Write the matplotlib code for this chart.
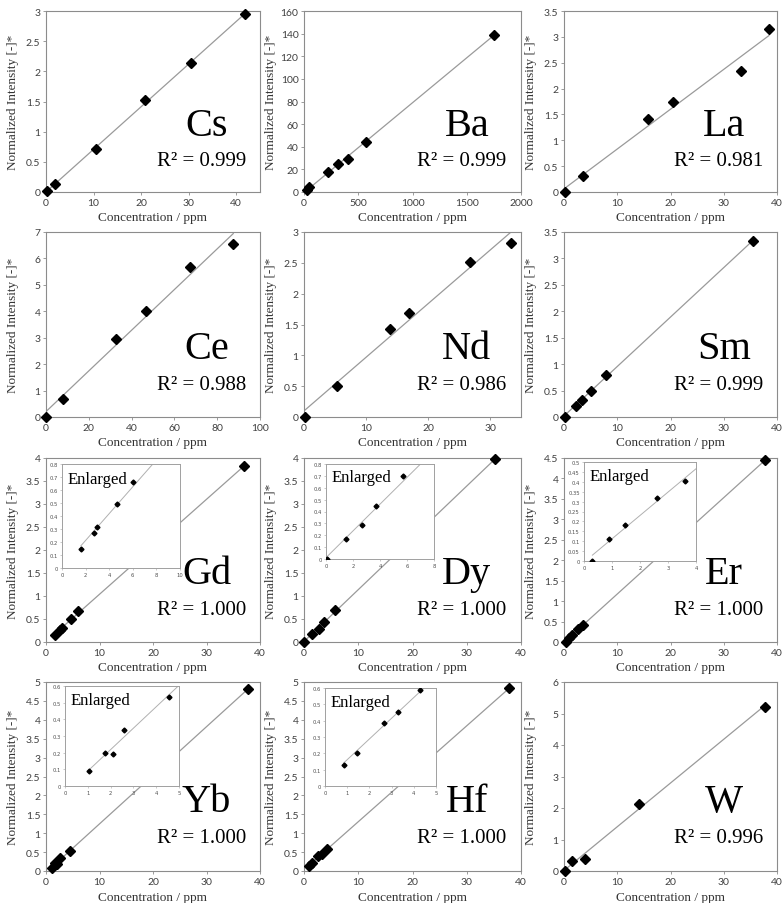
import numpy as np
import matplotlib
matplotlib.use('Agg')
import matplotlib.pyplot as plt
from matplotlib.ticker import MultipleLocator, FuncFormatter

# ---------------- data ----------------
elements = ['Cs', 'Ba', 'La', 'Ce', 'Nd', 'Sm', 'Gd', 'Dy', 'Er', 'Yb', 'Hf', 'W']
r2_labels = ['0.999', '0.999', '0.981', '0.988', '0.986', '0.999',
             '1.000', '1.000', '1.000', '1.000', '1.000', '0.996']

cs_x = [0.3, 1.8, 10.5, 20.8, 30.5, 41.8]
cs_y = [0.02, 0.13, 0.71, 1.53, 2.13, 2.95]
ba_x = [30, 50, 220, 310, 410, 570, 1750]
ba_y = [2, 4, 18, 25, 29.5, 44, 139]
la_x = [0.1, 3.5, 15.7, 20.5, 33.3, 38.5]
la_y = [0.0, 0.30, 1.41, 1.75, 2.34, 3.16]
ce_x = [0.2, 7.8, 32.5, 46.8, 67.5, 87.5]
ce_y = [0.0, 0.70, 2.95, 4.02, 5.68, 6.53]
nd_x = [0.1, 5.3, 13.8, 17.0, 26.7, 33.4]
nd_y = [0.0, 0.51, 1.43, 1.68, 2.52, 2.82]
sm_x = [0.1, 2.3, 3.3, 5.0, 7.8, 35.5]
sm_y = [0.0, 0.21, 0.33, 0.50, 0.80, 3.33]
gd_x = [1.6, 2.7, 3.0, 4.7, 6.0, 37.0]
gd_y = [0.15, 0.27, 0.315, 0.49, 0.665, 3.82]
dy_x = [0.05, 1.5, 2.7, 3.7, 5.7, 35.2]
dy_y = [0.0, 0.17, 0.29, 0.445, 0.695, 3.97]
er_x = [0.3, 0.9, 1.45, 2.6, 3.6, 37.8]
er_y = [0.0, 0.11, 0.18, 0.32, 0.405, 4.45]
yb_x = [1.05, 1.75, 2.1, 2.6, 4.55, 37.8]
yb_y = [0.09, 0.20, 0.195, 0.335, 0.535, 4.82]
hf_x = [0.85, 1.45, 2.65, 3.3, 4.3, 37.8]
hf_y = [0.13, 0.205, 0.385, 0.455, 0.59, 4.83]
w_x = [0.2, 1.5, 3.9, 14.0, 37.8]
w_y = [0.0, 0.33, 0.38, 2.12, 5.22]

series = [(cs_x, cs_y), (ba_x, ba_y), (la_x, la_y), (ce_x, ce_y), (nd_x, nd_y),
          (sm_x, sm_y), (gd_x, gd_y), (dy_x, dy_y), (er_x, er_y), (yb_x, yb_y),
          (hf_x, hf_y), (w_x, w_y)]

# axis ranges: (xmax, xstep, ymax, ystep)
ranges = [(45, 10, 3, 0.5), (2000, 500, 160, 20), (40, 10, 3.5, 0.5),
          (100, 20, 7, 1), (35, 10, 3, 0.5), (40, 10, 3.5, 0.5),
          (40, 10, 4, 0.5), (40, 10, 4, 0.5), (40, 10, 4.5, 0.5),
          (40, 10, 5, 0.5), (40, 10, 5, 0.5), (40, 10, 6, 1)]

# inset ranges: (xmax, xstep, ymax, ystep)
inset_ranges = {'Gd': (10, 2, 0.8, 0.1), 'Dy': (8, 2, 0.8, 0.1),
                'Er': (4, 1, 0.5, 0.05), 'Yb': (5, 1, 0.6, 0.1),
                'Hf': (5, 1, 0.6, 0.1)}

# ---------------- layout ----------------
W, H = 782, 904
col_x = [(46, 260), (304, 521), (564, 777)]
row_y = [(12, 193), (233, 418), (459, 643), (683, 872)]
inset_px = {'Gd': (62, 465, 180, 569), 'Dy': (326, 465, 434, 560),
            'Er': (584, 463, 696, 562), 'Yb': (65, 687, 179, 787),
            'Hf': (325, 689, 436, 787)}

SERIF = 'Liberation Serif'
SANS = 'Lato'
FRAME = '#8c8c8c'
TICKC = '#404040'


def rect(l, t, r, b):
    return [l / W, 1 - b / H, (r - l) / W, (b - t) / H]


fmt = FuncFormatter(lambda v, p: '%g' % round(v, 6))

fig = plt.figure(figsize=(W / 100, H / 100), dpi=100)
fig.patch.set_facecolor('white')

for i, el in enumerate(elements):
    r, c = divmod(i, 3)
    l, rr = col_x[c]
    t, b = row_y[r]
    ax = fig.add_axes(rect(l, t, rr, b))
    x = np.array(series[i][0], dtype=float)
    y = np.array(series[i][1], dtype=float)
    xmax, xstep, ymax, ystep = ranges[i]
    k, b0 = np.polyfit(x, y, 1)
    xl = np.array([x.min(), x.max()])
    ax.plot(xl, k * xl + b0, color='#9a9a9a', lw=0.9, zorder=2)
    ax.plot(x, y, 'D', color='black', ms=5.5, zorder=3, clip_on=False)
    ax.set_xlim(0, xmax)
    ax.set_ylim(0, ymax)
    ax.xaxis.set_major_locator(MultipleLocator(xstep))
    ax.yaxis.set_major_locator(MultipleLocator(ystep))
    ax.xaxis.set_major_formatter(fmt)
    ax.yaxis.set_major_formatter(fmt)
    for s in ax.spines.values():
        s.set_color(FRAME)
        s.set_linewidth(0.8)
    ax.tick_params(axis='both', which='both', direction='out', length=2.5,
                   width=0.6, color=FRAME, labelsize=7.5, labelcolor=TICKC,
                   pad=1.5)
    for lab in ax.get_xticklabels() + ax.get_yticklabels():
        lab.set_family(SANS)
    ax.set_xlabel('Concentration / ppm', fontsize=9.5, family=SERIF,
                  color='#333333')
    ax.set_ylabel('Normalized Intensity [-]*', fontsize=9.5, family=SERIF,
                  color='#333333')
    ax.xaxis.set_label_coords(0.5, -0.105)
    ax.yaxis.set_label_coords(-0.125, 0.5)
    ax.text(0.75, 0.37, el, transform=ax.transAxes, fontsize=29,
            family=SERIF, ha='center', va='center', color='black')
    ax.text(0.725, 0.175, 'R² = ' + r2_labels[i], transform=ax.transAxes,
            fontsize=15, family=SERIF, ha='center', va='center', color='black')

    if el in inset_px:
        il, it, ir, ib = inset_px[el]
        ia = fig.add_axes(rect(il, it, ir, ib))
        ixmax, ixstep, iymax, iystep = inset_ranges[el]
        ia.plot(xl, k * xl + b0, color='#b0b0b0', lw=0.7, zorder=2)
        ia.plot(x, y, 'D', color='black', ms=2.5, zorder=3)
        ia.set_xlim(0, ixmax)
        ia.set_ylim(0, iymax)
        ia.xaxis.set_major_locator(MultipleLocator(ixstep))
        ia.yaxis.set_major_locator(MultipleLocator(iystep))
        ia.xaxis.set_major_formatter(fmt)
        ia.yaxis.set_major_formatter(fmt)
        for s in ia.spines.values():
            s.set_color('#a0a0a0')
            s.set_linewidth(0.7)
        ia.tick_params(axis='both', direction='out', length=1.5, width=0.4,
                       color='#a0a0a0', labelsize=3.8, labelcolor='#505050',
                       pad=1.5)
        ia.text(0.05, 0.86, 'Enlarged', transform=ia.transAxes, fontsize=12,
                family=SERIF, ha='left', va='center', color='black')

fig.savefig('out.png', dpi=100, facecolor='white')
